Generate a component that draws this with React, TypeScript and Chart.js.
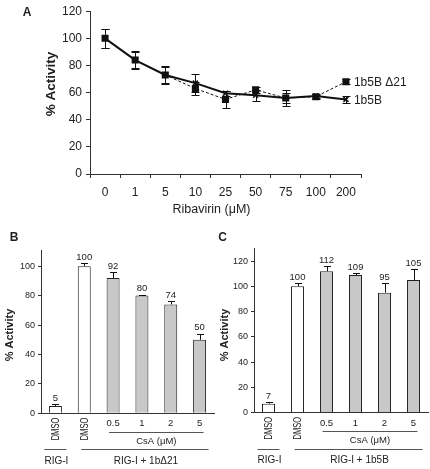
import React, { useEffect, useRef } from 'react';
import { Chart, registerables } from 'chart.js';

Chart.register(...registerables);

const FONT = '"Liberation Sans", Arial, Helvetica, sans-serif';

// ---------- Panel A ----------
const ribavirinDoses = ['0', '1', '5', '10', '25', '50', '75', '100', '200'];
const delta21Values = [100, 84, 73, 63, 55, 62, 56, 57, 68];
const delta21Errors = [7, 6, 6, 5, 6.5, 2, 4, 1.5, 2];
const b5bValues = [100, 84, 73, 67, 59.5, 58, 56, 57.5, 55];
const b5bErrors = [7, 6.5, 6.5, 6.5, 2, 4, 6, 1.5, 2.5];
const seriesNamesA = ['1b5B \u039421', '1b5B'];
const yTicksA = [0, 20, 40, 60, 80, 100, 120];
const xTitleA = 'Ribavirin (\u03bcM)';
const yTitle = '% Activity';

// ---------- Panel B ----------
const barCategories = ['DMSO', 'DMSO', '0.5', '1', '2', '5'];
const barFills = ['#ffffff', '#ffffff', '#c8c8c8', '#c8c8c8', '#c8c8c8', '#c8c8c8'];
const bValues = [5, 100, 92, 80, 74, 50];
const bErrors = [1, 2, 4, 0.7, 2, 4];
const yTicksB = [0, 20, 40, 60, 80, 100];
const groupLabelsB = ['CsA (\u03bcM)', 'RIG-I', 'RIG-I + 1b\u039421'];

// ---------- Panel C ----------
const cValues = [7, 100, 112, 109, 95, 105];
const cErrors = [1, 2.5, 3.8, 1.5, 7.6, 8.7];
const yTicksC = [0, 20, 40, 60, 80, 100, 120];
const groupLabelsC = ['CsA (\u03bcM)', 'RIG-I', 'RIG-I + 1b5B'];

const errorBars = {
  id: 'errorBars',
  afterDatasetsDraw(chart: any) {
    const { ctx } = chart;
    const y = chart.scales.y;
    chart.data.datasets.forEach((ds: any, di: number) => {
      const errs = ds.errors;
      if (!errs) return;
      const meta = chart.getDatasetMeta(di);
      const cap = ds.capHalf ?? 4;
      ctx.save();
      ctx.strokeStyle = '#111';
      ctx.lineWidth = 1;
      ctx.setLineDash([]);
      meta.data.forEach((el: any, i: number) => {
        const v = ds.data[i];
        const e = errs[i];
        const x = Math.round(el.x) + 0.5;
        const yt = Math.round(y.getPixelForValue(v + e)) + 0.5;
        const yb = ds.upperOnly ? y.getPixelForValue(v) : Math.round(y.getPixelForValue(v - e)) + 0.5;
        ctx.beginPath();
        ctx.moveTo(x, yt);
        ctx.lineTo(x, yb);
        ctx.moveTo(x - cap, yt);
        ctx.lineTo(x + cap, yt);
        if (!ds.upperOnly) {
          ctx.moveTo(x - cap, yb);
          ctx.lineTo(x + cap, yb);
        }
        ctx.stroke();
      });
      ctx.restore();
    });
  },
};

const panelA = {
  id: 'panelA',
  afterDraw(chart: any) {
    const { ctx, scales } = chart;
    const x = scales.x;
    ctx.save();
    ctx.fillStyle = '#222';
    ctx.textAlign = 'center';
    ctx.textBaseline = 'middle';
    ctx.font = `bold 12px ${FONT}`;
    ctx.fillText('A', 27, 13);
    // y title
    ctx.save();
    ctx.translate(51, 84);
    ctx.rotate(-Math.PI / 2);
    ctx.font = `bold 13.5px ${FONT}`;
    ctx.fillText(yTitle, 0, 0);
    ctx.restore();
    // x title
    ctx.font = `12.5px ${FONT}`;
    const xt = (x.getPixelForValue(3) + x.getPixelForValue(4)) / 2 + 1;
    ctx.fillText(xTitleA, xt, 210);
    // series end labels
    ctx.textAlign = 'left';
    ctx.font = `12px ${FONT}`;
    chart.data.datasets.forEach((ds: any, di: number) => {
      const meta = chart.getDatasetMeta(di);
      const last = meta.data[meta.data.length - 1];
      ctx.fillText(ds.label, last.x + 8, last.y + 1);
    });
    ctx.restore();
  },
};

const barPanel = {
  id: 'barPanel',
  afterDraw(chart: any, _args: any, opts: any) {
    const { ctx, scales, chartArea } = chart;
    const x = scales.x;
    const y = scales.y;
    const ds = chart.data.datasets[0];
    const base = chartArea.bottom;
    ctx.save();
    ctx.fillStyle = '#222';
    ctx.textAlign = 'center';
    ctx.textBaseline = 'middle';
    // panel letter
    ctx.font = `bold 12px ${FONT}`;
    ctx.fillText(opts.letter, opts.letterX, 8);
    // y title
    ctx.save();
    ctx.translate(10, 105);
    ctx.rotate(-Math.PI / 2);
    ctx.font = `bold 11px ${FONT}`;
    ctx.fillText(yTitle, 0, 0);
    ctx.restore();
    // value labels
    ctx.font = `9.5px ${FONT}`;
    ds.data.forEach((v: number, i: number) => {
      const px = x.getPixelForValue(i);
      const py = y.getPixelForValue(v + ds.errors[i]) - 6;
      ctx.fillText(String(v), px, py);
    });
    // category labels
    chart.data.labels.forEach((lab: string, i: number) => {
      const px = x.getPixelForValue(i);
      if (lab === 'DMSO') {
        ctx.save();
        ctx.translate(px + 1, base + 15.7);
        ctx.rotate(-Math.PI / 2);
        ctx.scale(0.72, 1);
        ctx.font = `10.5px ${FONT}`;
        ctx.fillText(lab, 0, 0);
        ctx.restore();
      } else {
        ctx.font = `9.5px ${FONT}`;
        ctx.fillText(lab, px, base + 10.5);
      }
    });
    // group lines
    const p = (i: number) => x.getPixelForValue(i);
    ctx.strokeStyle = '#555';
    ctx.lineWidth = 1;
    const line = (x1: number, x2: number, yy: number) => {
      const yr = Math.round(yy) + 0.5;
      ctx.beginPath();
      ctx.moveTo(x1, yr);
      ctx.lineTo(x2, yr);
      ctx.stroke();
    };
    line(p(2) - 4, p(5) + 4, base + 18.5);
    line(p(0) - 11, p(0) + 11, base + 36);
    line(p(1) - 3, p(5) + 9, base + 36);
    const labels = opts.groups;
    ctx.font = `9.5px ${FONT}`;
    ctx.fillText(labels[0], (p(2) + p(5)) / 2, base + 28);
    ctx.font = `10px ${FONT}`;
    ctx.fillText(labels[1], p(0) + 1, base + 48);
    ctx.fillText(labels[2], (p(1) + p(5)) / 2 + 4, base + 48);
    ctx.restore();
  },
};

const axisColor = '#333';

function configA(): any {
  return {
    type: 'line',
    data: {
      labels: ribavirinDoses,
      datasets: [
        {
          label: seriesNamesA[0],
          data: delta21Values,
          errors: delta21Errors,
          borderColor: '#111',
          borderWidth: 1,
          borderDash: [3, 2],
          pointStyle: 'rect',
          pointRadius: 5,
          pointBackgroundColor: '#111',
          pointBorderColor: '#111',
          pointBorderWidth: 0,
          tension: 0,
        },
        {
          label: seriesNamesA[1],
          data: b5bValues,
          errors: b5bErrors,
          borderColor: '#111',
          borderWidth: 2,
          pointStyle: 'crossRot',
          pointRadius: 3.5,
          pointBorderWidth: 1.5,
          pointBackgroundColor: '#111',
          pointBorderColor: '#111',
          tension: 0,
        },
      ],
    },
    options: {
      animation: false,
      responsive: false,
      devicePixelRatio: 1,
      layout: { padding: { left: 0, top: 8, right: 69, bottom: 0 } },
      plugins: { legend: { display: false }, tooltip: { enabled: false } },
      scales: {
        x: {
          type: 'category',
          offset: true,
          grid: { display: true, offset: true, drawOnChartArea: false, drawTicks: true, tickLength: 4, color: axisColor },
          border: { color: axisColor, width: 1 },
          ticks: { color: '#222', font: { family: FONT, size: 12 }, padding: 7, maxRotation: 0, autoSkip: false },
          afterFit: (s: any) => { s.height = 56; },
        },
        y: {
          min: 0,
          max: 120,
          afterBuildTicks: (s: any) => { s.ticks = yTicksA.map((v) => ({ value: v })); },
          grid: { display: true, drawOnChartArea: false, drawTicks: true, tickLength: 4, color: axisColor },
          border: { color: axisColor, width: 1 },
          ticks: { color: '#222', font: { family: FONT, size: 12 }, padding: 4 },
          afterFit: (s: any) => { s.width = 90; },
        },
      },
    },
    plugins: [errorBars, panelA],
  };
}

function configBar(values: number[], errors: number[], ticks: number[], max: number, yWidth: number, bottom: number, top: number, rightPad: number, letter: string, letterX: number, groups: string[]): any {
  return {
    type: 'bar',
    data: {
      labels: barCategories,
      datasets: [
        {
          data: values,
          errors,
          upperOnly: true,
          capHalf: 3.5,
          backgroundColor: barFills,
          borderColor: '#222',
          borderWidth: 1,
          barPercentage: 0.45,
          categoryPercentage: 1,
        },
      ],
    },
    options: {
      animation: false,
      responsive: false,
      devicePixelRatio: 1,
      layout: { padding: { left: 0, top, right: rightPad, bottom: 0 } },
      plugins: { legend: { display: false }, tooltip: { enabled: false }, barPanel: { letter, letterX, groups } },
      scales: {
        x: {
          grid: { display: false },
          border: { color: axisColor, width: 1 },
          ticks: { display: false },
          afterFit: (s: any) => { s.height = 239 - bottom; },
        },
        y: {
          min: 0,
          max,
          afterBuildTicks: (s: any) => { s.ticks = ticks.map((v) => ({ value: v })); },
          grid: { display: true, drawOnChartArea: false, drawTicks: true, tickLength: 3, color: axisColor },
          border: { color: axisColor, width: 1 },
          ticks: { color: '#222', font: { family: FONT, size: 9 }, padding: 3 },
          afterFit: (s: any) => { s.width = yWidth; },
        },
      },
    },
    plugins: [errorBars, barPanel],
  };
}

export default function App() {
  const aRef = useRef<HTMLCanvasElement>(null);
  const bRef = useRef<HTMLCanvasElement>(null);
  const cRef = useRef<HTMLCanvasElement>(null);

  useEffect(() => {
    const charts = [
      new Chart(aRef.current!, configA()),
      new Chart(bRef.current!, configBar(bValues, bErrors, yTicksB, 111, 41, 183.3, 20, 1, 'B', 14, groupLabelsB)),
      new Chart(cRef.current!, configBar(cValues, cErrors, yTicksC, 130, 39, 182.5, 18.5, 2, 'C', 7.5, groupLabelsC)),
    ];
    return () => charts.forEach((c) => c.destroy());
  }, []);

  const canvasStyle = (left: number, top: number, w: number, h: number): React.CSSProperties => ({
    position: 'absolute', left, top, width: w, height: h, display: 'block',
  });

  return (
    <div style={{ position: 'absolute', left: 0, top: 0, width: 430, height: 469, background: '#fff' }}>
      <canvas ref={aRef} width={430} height={230} style={canvasStyle(0, 0, 430, 230)} />
      <canvas ref={bRef} width={215} height={239} style={canvasStyle(0, 230, 215, 239)} />
      <canvas ref={cRef} width={215} height={239} style={canvasStyle(215, 230, 215, 239)} />
    </div>
  );
}
